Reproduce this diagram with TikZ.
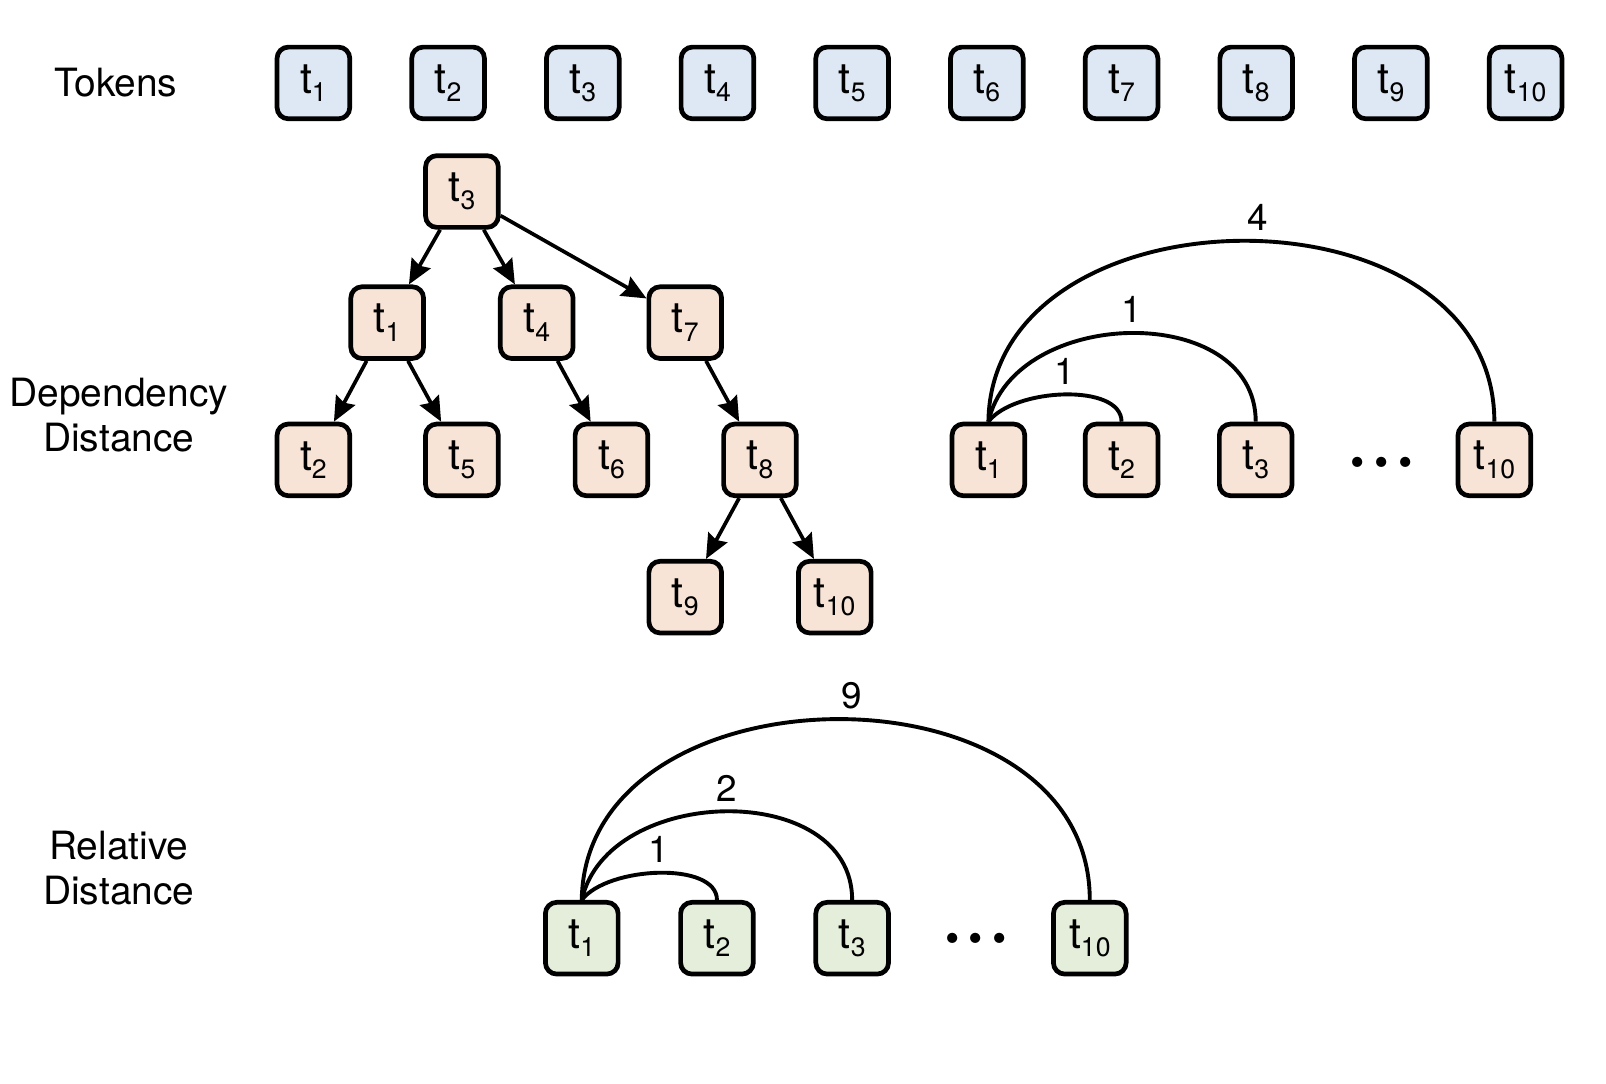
\documentclass[tikz,border=0pt]{standalone}
\usepackage{fontspec}
\setmainfont{TeX Gyre Heros}
\usetikzlibrary{positioning, arrows.meta, calc}
\definecolor{TokBlue}{RGB}{222, 232, 244}
\definecolor{DepTan}{RGB}{248, 228, 214}
\definecolor{RelGreen}{RGB}{228, 238, 219}
\newcommand{\tsub}[1]{t\raisebox{-4pt}{\fontsize{13}{13}\selectfont #1}}
\tikzset{
  tok/.style={rectangle, rounded corners=5.5pt, draw=black, line width=2.3pt,
    minimum width=35.5pt, minimum height=35pt, inner sep=0pt, font=\fontsize{21}{21}\selectfont},
  tokin/.style={tok, fill=TokBlue},
  dep/.style={tok, fill=DepTan},
  rel/.style={tok, fill=RelGreen},
  dlink/.style={-{Stealth[length=12pt, width=10.5pt, inset=1.5pt]}, line width=1.8pt},
  bow/.style={line width=1.9pt},
  dist/.style={font=\fontsize{18}{18}\selectfont, inner sep=2pt, above=2pt},
  rowlbl/.style={font=\fontsize{19}{22}\selectfont, align=center},
  ellip/.style={font=\fontsize{20}{20}\selectfont, inner sep=0pt},
}

\begin{document}
\begin{tikzpicture}[x=0.5pt, y=-0.5pt, node distance=27.95pt]
    \useasboundingbox (0,0) rectangle (1568,1058);
    % row labels
    \node[rowlbl] (lTok) at (113,81) {Tokens};
    \node[rowlbl] (lDep) at (116,405) {Dependency\\Distance};
    \node[rowlbl] (lRel) at (116,848) {Relative\\Distance};
    % token row
    \node[tokin] (tk1) at (306,81) {\tsub{1}};
    \node[tokin, right=of tk1] (tk2) {\tsub{2}};
    \node[tokin, right=of tk2] (tk3) {\tsub{3}};
    \node[tokin, right=of tk3] (tk4) {\tsub{4}};
    \node[tokin, right=of tk4] (tk5) {\tsub{5}};
    \node[tokin, right=of tk5] (tk6) {\tsub{6}};
    \node[tokin, right=of tk6] (tk7) {\tsub{7}};
    \node[tokin, right=of tk7] (tk8) {\tsub{8}};
    \node[tokin, right=of tk8] (tk9) {\tsub{9}};
    \node[tokin, right=of tk9] (tk10) {\tsub{10}};
    % dependency tree
    \node[dep] (dt3) at (451,187) {\tsub{3}};
    \node[dep] (dt1) at (378,315) {\tsub{1}};
    \node[dep] (dt4) at (524,315) {\tsub{4}};
    \node[dep] (dt7) at (669,315) {\tsub{7}};
    \node[dep] (dt2) at (306,449) {\tsub{2}};
    \node[dep] (dt5) at (451,449) {\tsub{5}};
    \node[dep] (dt6) at (597,449) {\tsub{6}};
    \node[dep] (dt8) at (742,449) {\tsub{8}};
    \node[dep] (dt9) at (669,583) {\tsub{9}};
    \node[dep] (dt10) at (815,583) {\tsub{10}};
    \draw[dlink] (dt3)--(dt1);\draw[dlink] (dt3)--(dt4);\draw[dlink] (dt3.-32)--(dt7.148);
    \draw[dlink] (dt1)--(dt2);\draw[dlink] (dt1)--(dt5);\draw[dlink] (dt4)--(dt6);
    \draw[dlink] (dt7)--(dt8);\draw[dlink] (dt8)--(dt9);\draw[dlink] (dt8)--(dt10);
    % dependency distance arcs
    \node[dep] (da1) at (965,449) {\tsub{1}};
    \node[dep] (da2) at (1095,449) {\tsub{2}};
    \node[dep] (da3) at (1226,449) {\tsub{3}};
    \node[ellip] (daDots) at (1349,456) {\textbullet\hspace{4.5pt}\textbullet\hspace{4.5pt}\textbullet};
    \node[dep] (da10) at (1459,449) {\tsub{10}};
    \draw[bow] (da1.north) .. controls +(25,-33) and +(0,-38) .. (da2.north) node[dist, pos=0.5] (dn2) {1};
    \draw[bow] (da1.north) .. controls +(25,-113) and +(0,-118) .. (da3.north) node[dist, pos=0.5] (dn3) {1};
    \draw[bow] (da1.north) .. controls +(3,-233) and +(0,-238) .. (da10.north) node[dist, pos=0.52] (dn10) {4};
    % relative distance arcs
    \node[rel] (ra1) at (568,916) {\tsub{1}};
    \node[rel] (ra2) at (700,916) {\tsub{2}};
    \node[rel] (ra3) at (832,916) {\tsub{3}};
    \node[ellip] (raDots) at (953,921) {\textbullet\hspace{4.5pt}\textbullet\hspace{4.5pt}\textbullet};
    \node[rel] (ra10) at (1064,916) {\tsub{10}};
    \draw[bow] (ra1.north) .. controls +(25,-33) and +(0,-38) .. (ra2.north) node[dist, pos=0.5] (rn2) {1};
    \draw[bow] (ra1.north) .. controls +(25,-113) and +(0,-118) .. (ra3.north) node[dist, pos=0.5] (rn3) {2};
    \draw[bow] (ra1.north) .. controls +(3,-233) and +(0,-238) .. (ra10.north) node[dist, pos=0.52] (rn10) {9};
\end{tikzpicture}
\end{document}
